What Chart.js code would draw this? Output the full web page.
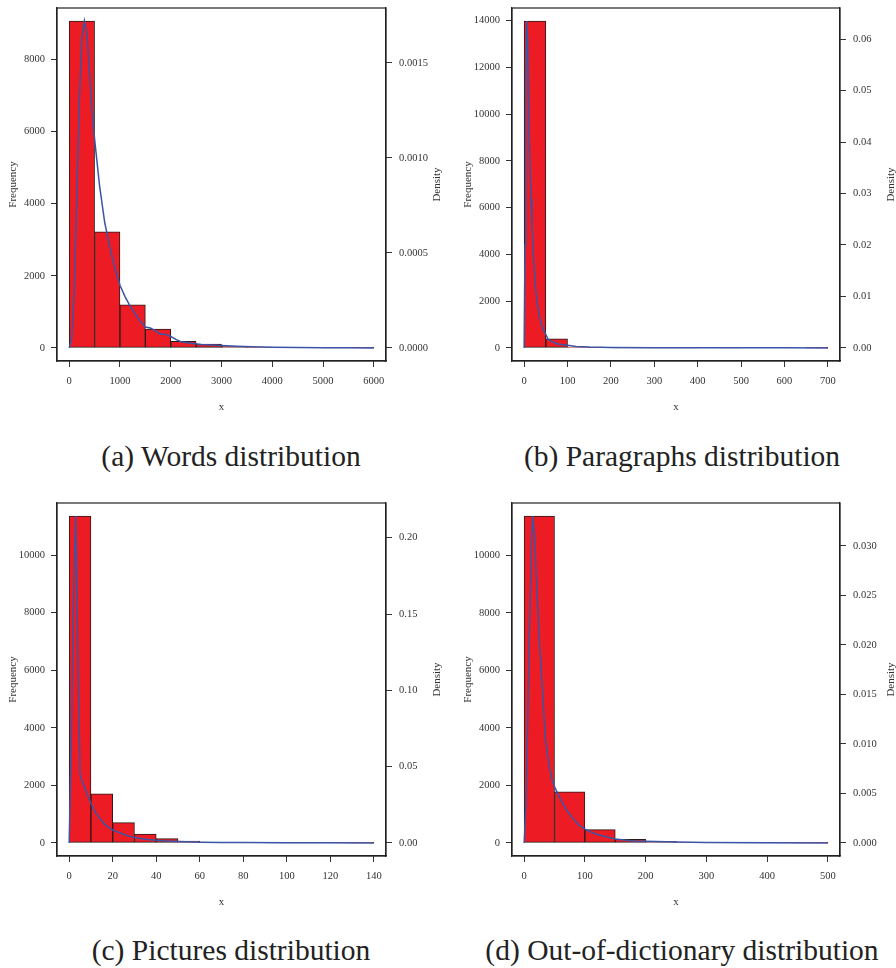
<!DOCTYPE html>
<html>
<head>
<meta charset="utf-8">
<script src="https://cdn.jsdelivr.net/npm/chart.js@4.4.1/dist/chart.umd.min.js"></script>
<style>
  body { margin: 0; background: #fff; }
  #page { position: relative; width: 896px; height: 968px; }
  .panel { position: absolute; width: 448px; height: 420px; }
  .cap { position: absolute; width: 448px; text-align: center; white-space: nowrap;
         font: 29.5px "Liberation Serif", serif; line-height: 36px; color: #222; }
</style>
</head>
<body>
<div id="page">
  <div class="panel" style="left:0;top:0"><canvas id="words" width="448" height="420"></canvas></div>
  <div class="panel" style="left:448px;top:0"><canvas id="paragraphs" width="448" height="420"></canvas></div>
  <div class="panel" style="left:0;top:495px"><canvas id="pictures" width="448" height="420"></canvas></div>
  <div class="panel" style="left:448px;top:495px"><canvas id="ood" width="448" height="420"></canvas></div>
  <div class="cap" style="left:7px;top:438px">(a) Words distribution</div>
  <div class="cap" style="left:458px;top:438px">(b) Paragraphs distribution</div>
  <div class="cap" style="left:7px;top:932px">(c) Pictures distribution</div>
  <div class="cap" style="left:458px;top:932px">(d) Out-of-dictionary distribution</div>
</div>
<script>
// (a) words
const wordsBreaks = [0, 500, 1000, 1500, 2000, 2500, 3000, 3500, 4000, 4500, 5000, 5500, 6000];
const wordsCounts = [9060, 3215, 1195, 520, 185, 105, 45, 20, 10, 6, 3, 2];
const wordsDensX = [0, 50, 100, 150, 200, 250, 300, 350, 400, 450, 500, 600, 700, 800, 900, 1000, 1100, 1200, 1300, 1400,
  1500, 1600, 1700, 1800, 1900, 2000, 2100, 2200, 2400, 2600, 2800, 3000, 3300, 3600, 4000, 4500, 5000, 5500, 6000];
const wordsDensY = [0, 0.00005, 0.0003, 0.0008, 0.0013, 0.00163, 0.00172, 0.00165, 0.00145, 0.00125, 0.0011, 0.00085, 0.00066,
  0.00053, 0.00042, 0.00033, 0.00027, 0.00022, 0.00018, 0.00014, 0.00011, 0.000105, 0.00009, 0.000072, 0.000072, 0.00006,
  0.000045, 0.000033, 0.000025, 0.000018, 0.000016, 0.000013, 0.000009, 0.000006, 0.000004, 0.000002, 0.000001, 0.000001, 0];
const wordsXTicks = [0, 1000, 2000, 3000, 4000, 5000, 6000];
const wordsFreqTicks = [0, 2000, 4000, 6000, 8000];
const wordsDensTicks = [0, 0.0005, 0.001, 0.0015];

// (b) paragraphs
const paraBreaks = [0, 50, 100, 150, 200, 250, 300, 350, 400, 450, 500, 550, 600, 650, 700];
const paraCounts = [13980, 385, 35, 8, 3, 2, 1, 1, 0, 1, 0, 0, 0, 1];
const paraDensX = [0, 2, 4, 6, 8, 10, 12, 14, 16, 18, 20, 25, 30, 35, 40, 45, 50, 55, 60, 65, 70, 80, 90, 100, 120, 150,
  200, 300, 400, 500, 600, 700];
const paraDensY = [0, 0.02, 0.05, 0.0635, 0.06, 0.05, 0.041, 0.034, 0.029, 0.024, 0.02, 0.013, 0.0088, 0.0062, 0.0045,
  0.0034, 0.0026, 0.0017, 0.0014, 0.0012, 0.001, 0.0007, 0.0006, 0.0005, 0.0003, 0.00018, 0.0001, 0.00004, 0.00002,
  0.00001, 0.00001, 0];
const paraXTicks = [0, 100, 200, 300, 400, 500, 600, 700];
const paraFreqTicks = [0, 2000, 4000, 6000, 8000, 10000, 12000, 14000];
const paraDensTicks = [0, 0.01, 0.02, 0.03, 0.04, 0.05, 0.06];

// (c) pictures
const picBreaks = [0, 10, 20, 30, 40, 50, 60, 70, 80, 90, 100, 110, 120, 130, 140];
const picCounts = [11360, 1705, 705, 310, 150, 60, 25, 12, 6, 3, 2, 1, 1, 1];
const picDensX = [0, 1, 2, 3, 4, 5, 6, 7, 8, 10, 12, 14, 16, 18, 20, 22, 24, 26, 28, 30, 35, 40, 45, 50, 60, 70, 80,
  100, 120, 140];
const picDensY = [0, 0.07, 0.16, 0.2142, 0.122, 0.045, 0.04, 0.037, 0.033, 0.026, 0.02, 0.0162, 0.0128, 0.0102, 0.0085,
  0.0074, 0.0062, 0.0052, 0.0043, 0.0036, 0.0024, 0.0017, 0.0012, 0.0009, 0.0005, 0.0003, 0.0002, 0.0001, 0.00005, 0];
const picXTicks = [0, 20, 40, 60, 80, 100, 120, 140];
const picFreqTicks = [0, 2000, 4000, 6000, 8000, 10000];
const picDensTicks = [0, 0.05, 0.1, 0.15, 0.2];

// (d) out-of-dictionary
const oodBreaks = [0, 50, 100, 150, 200, 250, 300, 350, 400, 450, 500];
const oodCounts = [11370, 1775, 463, 128, 58, 18, 8, 4, 2, 1];
const oodDensX = [0, 3, 6, 9, 12, 14, 17, 20, 25, 30, 35, 40, 45, 50, 55, 60, 70, 80, 90, 100, 110, 120, 130, 150, 180,
  200, 250, 300, 400, 500];
const oodDensY = [0, 0.004, 0.0125, 0.022, 0.03, 0.033, 0.031, 0.027, 0.0205, 0.0155, 0.0105, 0.0082, 0.0066, 0.0057,
  0.005, 0.0044, 0.0033, 0.0025, 0.0018, 0.0014, 0.0011, 0.00085, 0.0007, 0.0004, 0.0002, 0.00017, 0.0001, 0.00005,
  0.00002, 0];
const oodXTicks = [0, 100, 200, 300, 400, 500];
const oodFreqTicks = [0, 2000, 4000, 6000, 8000, 10000];
const oodDensTicks = [0, 0.005, 0.01, 0.015, 0.02, 0.025, 0.03];

const ink = '#333';
const tickFont = { family: 'Liberation Serif', size: 10.5 };

// R-style box plus the axis titles (Density reads bottom to top like mtext side 4)
const frame = {
  id: 'frame',
  afterDraw(chart) {
    const { ctx, chartArea: a } = chart;
    const midY = (a.top + a.bottom) / 2;
    ctx.save();
    ctx.strokeStyle = '#222';
    ctx.lineWidth = 1.2;
    ctx.strokeRect(a.left, a.top, a.right - a.left, a.bottom - a.top);
    ctx.fillStyle = ink;
    ctx.font = '11px "Liberation Serif"';
    ctx.textAlign = 'center';
    ctx.textBaseline = 'middle';
    ctx.fillText('x', (a.left + a.right) / 2, a.bottom + 46);
    ctx.translate(a.left - 43.5, midY);
    ctx.rotate(-Math.PI / 2);
    ctx.fillText('Frequency', 0, 0);
    ctx.restore();
    ctx.save();
    ctx.fillStyle = ink;
    ctx.font = '11px "Liberation Serif"';
    ctx.textAlign = 'center';
    ctx.textBaseline = 'middle';
    ctx.translate(a.right + 51.5, midY);
    ctx.rotate(-Math.PI / 2);
    ctx.fillText('Density', 0, 0);
    ctx.restore();
  }
};

function axisLook(extra) {
  return Object.assign({
    grid: { offset: false, drawOnChartArea: false, drawTicks: true, tickLength: 6, color: ink, lineWidth: 1 },
    border: { display: true, color: '#222', width: 1.2 }
  }, extra);
}

function drawHist(id, breaks, counts, densX, densY, xTicks, freqTicks, densTicks, digits, leftW, rightW) {
  const first = breaks[0], last = breaks[breaks.length - 1];
  const span = last - first;
  const cMax = Math.max(...counts);
  const dMax = Math.max(...densY);
  const bars = counts.map((c, i) => ({ x: (breaks[i] + breaks[i + 1]) / 2, y: c }));
  const curve = densX.map((x, i) => ({ x: x, y: densY[i] }));

  new Chart(document.getElementById(id), {
    type: 'bar',
    data: {
      datasets: [
        { type: 'line', data: curve, yAxisID: 'y2', borderColor: '#3b55a6', borderWidth: 1.5,
          pointRadius: 0, tension: 0, order: 0 },
        { type: 'bar', data: bars, yAxisID: 'y', backgroundColor: '#ed1c24', borderColor: '#2a1a1a',
          borderWidth: 1, borderSkipped: false, barPercentage: 1, categoryPercentage: 1, order: 1 }
      ]
    },
    options: {
      responsive: false,
      animation: false,
      layout: { padding: { top: 8, left: 0, right: 0, bottom: 0 } },
      plugins: { legend: { display: false }, tooltip: { enabled: false } },
      scales: {
        x: axisLook({
          type: 'linear', offset: false,
          min: first - 0.04 * span, max: last + 0.04 * span,
          afterBuildTicks: s => { s.ticks = xTicks.map(v => ({ value: v })); },
          afterFit: s => { s.height = 59; s.paddingLeft = 0; s.paddingRight = 0; },
          ticks: { autoSkip: false, maxRotation: 0, padding: 8, color: ink, font: tickFont, callback: v => String(v) }
        }),
        y: axisLook({
          position: 'left',
          min: -0.04 * cMax, max: 1.04 * cMax,
          afterBuildTicks: s => { s.ticks = freqTicks.map(v => ({ value: v })); },
          afterFit: s => { s.width = leftW; s.paddingTop = 0; s.paddingBottom = 0; },
          ticks: { autoSkip: false, padding: 6, color: ink, font: tickFont, callback: v => String(v) }
        }),
        y2: axisLook({
          position: 'right',
          min: -0.04 * dMax, max: 1.04 * dMax,
          afterBuildTicks: s => { s.ticks = densTicks.map(v => ({ value: v })); },
          afterFit: s => { s.width = rightW; s.paddingTop = 0; s.paddingBottom = 0; },
          ticks: { autoSkip: false, padding: 7, color: ink, font: tickFont, callback: v => v.toFixed(digits) }
        })
      }
    },
    plugins: [frame]
  });
}

drawHist('words', wordsBreaks, wordsCounts, wordsDensX, wordsDensY, wordsXTicks, wordsFreqTicks, wordsDensTicks, 4, 57, 62);
drawHist('paragraphs', paraBreaks, paraCounts, paraDensX, paraDensY, paraXTicks, paraFreqTicks, paraDensTicks, 2, 64, 56);
drawHist('pictures', picBreaks, picCounts, picDensX, picDensY, picXTicks, picFreqTicks, picDensTicks, 2, 57, 62);
drawHist('ood', oodBreaks, oodCounts, oodDensX, oodDensY, oodXTicks, oodFreqTicks, oodDensTicks, 3, 64, 56);
</script>
</body>
</html>
